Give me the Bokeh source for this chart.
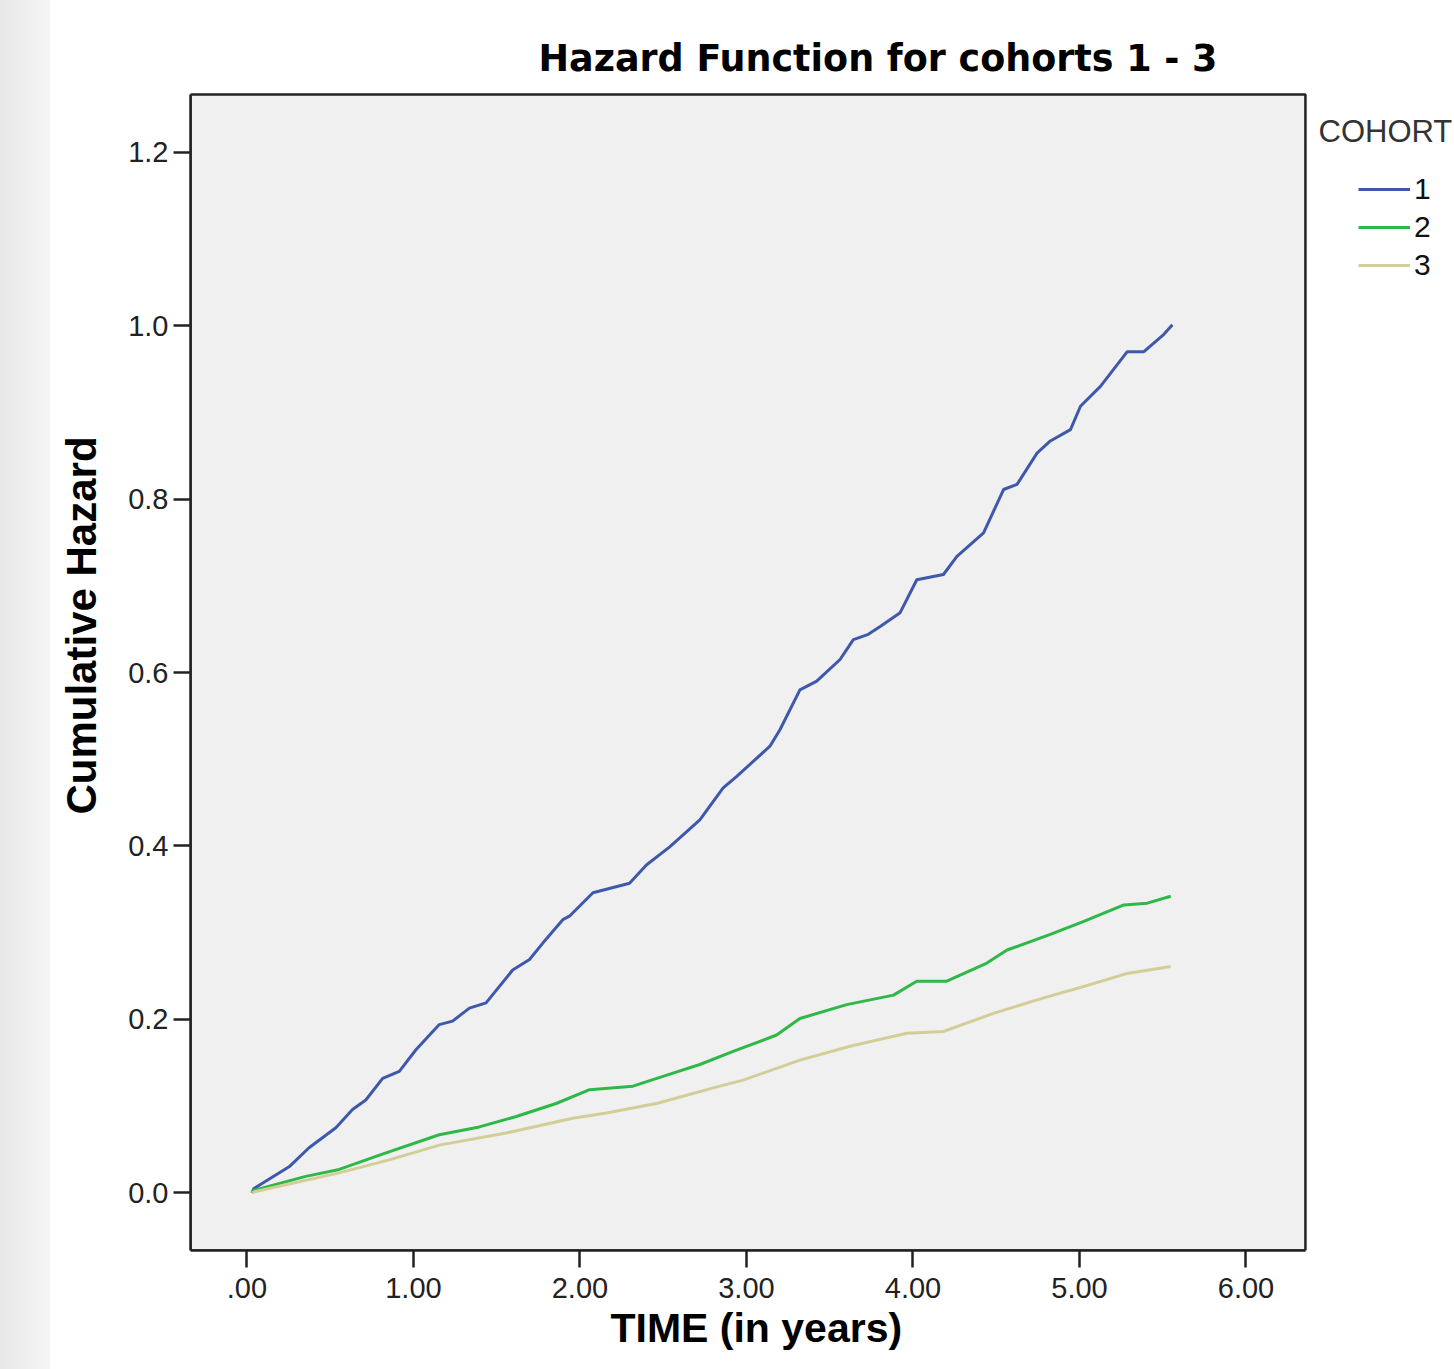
from bokeh.plotting import figure
from bokeh.models import Range1d, FixedTicker, Label, Legend, LegendItem, BoxAnnotation, Title, Div
from bokeh.layouts import row
from bokeh.embed import file_html
from bokeh.resources import INLINE

# ---------------- data ----------------
t1 = [0.03, 0.042, 0.253, 0.373, 0.534, 0.634, 0.714, 0.815, 0.915, 1.015, 1.155, 1.235,
      1.336, 1.436, 1.596, 1.697, 1.777, 1.897, 1.937, 2.078, 2.298, 2.399, 2.539, 2.720,
      2.860, 2.940, 3.141, 3.201, 3.321, 3.422, 3.562, 3.642, 3.732, 3.803, 3.923, 4.023,
      4.183, 4.264, 4.424, 4.544, 4.625, 4.745, 4.825, 4.946, 5.006, 5.126, 5.287, 5.387,
      5.507, 5.558]
h1 = [0.0, 0.005, 0.030, 0.052, 0.075, 0.096, 0.107, 0.132, 0.140, 0.165, 0.194, 0.198,
      0.213, 0.219, 0.257, 0.269, 0.288, 0.315, 0.319, 0.346, 0.357, 0.378, 0.399, 0.430,
      0.467, 0.480, 0.515, 0.534, 0.580, 0.590, 0.615, 0.638, 0.644, 0.653, 0.669, 0.707,
      0.713, 0.734, 0.761, 0.811, 0.817, 0.853, 0.867, 0.880, 0.907, 0.930, 0.970, 0.970,
      0.990, 1.001]

t2 = [0.03, 0.042, 0.353, 0.554, 0.835, 1.155, 1.396, 1.617, 1.857, 2.058, 2.318, 2.559,
      2.720, 2.920, 3.181, 3.321, 3.602, 3.883, 4.023, 4.203, 4.444, 4.565, 4.825, 5.026,
      5.267, 5.407, 5.548]
h2 = [0.0, 0.003, 0.019, 0.027, 0.046, 0.067, 0.076, 0.088, 0.103, 0.119, 0.123, 0.138,
      0.148, 0.163, 0.182, 0.201, 0.217, 0.228, 0.244, 0.244, 0.265, 0.280, 0.298, 0.313,
      0.332, 0.334, 0.342]

t3 = [0.03, 0.052, 0.554, 0.854, 1.155, 1.557, 1.957, 2.158, 2.459, 2.840, 2.980, 3.321,
      3.622, 3.963, 4.183, 4.484, 4.805, 5.026, 5.287, 5.548]
h3 = [0.0, 0.0015, 0.023, 0.038, 0.055, 0.069, 0.086, 0.092, 0.103, 0.123, 0.130, 0.153,
      0.169, 0.184, 0.186, 0.207, 0.226, 0.238, 0.253, 0.261]

cohorts = ["1", "2", "3"]
colors = ["#3E58AC", "#2EB848", "#D3CE97"]

x_ticks = [0, 1, 2, 3, 4, 5, 6]
x_tick_labels = [".00", "1.00", "2.00", "3.00", "4.00", "5.00", "6.00"]
y_ticks = [0.0, 0.2, 0.4, 0.6, 0.8, 1.0, 1.2]
y_tick_labels = ["0.0", "0.2", "0.4", "0.6", "0.8", "1.0", "1.2"]

# axis extents of the plotting box
x_lo, x_hi = -0.339, 6.357
y_lo, y_hi = -0.0665, 1.2665

title_text = "Hazard Function for cohorts 1 - 3"
x_title = "TIME (in years)"
y_title = "Cumulative Hazard"
legend_title = "COHORT"

FONT = "Liberation Sans"

p = figure(width=1404, height=1369, output_backend="svg", toolbar_location=None,
           x_range=Range1d(x_lo, 7.2523), y_range=Range1d(y_lo, 1.3749),
           min_border_left=140, min_border_right=0, min_border_top=0,
           min_border_bottom=119)

p.background_fill_color = "white"
p.border_fill_color = "white"
p.outline_line_color = None
p.xgrid.visible = False
p.ygrid.visible = False

p.add_layout(BoxAnnotation(left=x_lo, right=x_hi, bottom=y_lo, top=y_hi,
                           fill_color="#f0f0f0", fill_alpha=1.0,
                           line_color="#222222", line_alpha=1.0, line_width=2.5,
                           level="underlay"))

for ax, ticks, labels, bnd in ((p.xaxis[0], x_ticks, x_tick_labels, (x_lo, x_hi)),
                               (p.yaxis[0], y_ticks, y_tick_labels, (y_lo, y_hi))):
    ax.ticker = FixedTicker(ticks=ticks)
    ax.bounds = bnd
    ax.major_label_overrides = {t: l for t, l in zip(ticks, labels)}
    ax.axis_line_color = "#222222"
    ax.axis_line_width = 2.5
    ax.major_tick_line_color = "#222222"
    ax.major_tick_line_width = 2.5
    ax.major_tick_out = 17
    ax.major_tick_in = 0
    ax.minor_tick_line_color = None
    ax.major_label_text_font = FONT
    ax.major_label_text_font_size = "29px"
    ax.major_label_text_color = "#222222"
    ax.axis_label_text_font = FONT
    ax.axis_label_text_font_size = "42px"
    ax.axis_label_text_font_style = "bold"
    ax.axis_label_text_color = "black"

p.yaxis.axis_label = y_title
p.xaxis.major_label_standoff = 10
p.yaxis.major_label_standoff = 5
p.yaxis.axis_label_standoff = 20

# x-axis title, left-aligned so that it sits centred under the plotting box
p.add_layout(Title(text=x_title, align="left", offset=420, standoff=4,
                   text_font=FONT, text_font_size="41px", text_font_style="bold",
                   text_color="black"), "below")

renderers = []
for ts, hs, c in ((t1, h1, colors[0]), (t2, h2, colors[1]), (t3, h3, colors[2])):
    r = p.line(ts, hs, line_color=c, line_width=3, line_join="round")
    renderers.append(r)

legend = Legend(items=[LegendItem(label=lab, renderers=[r]) for lab, r in zip(cohorts, renderers)],
                location=(1168, 968), orientation="vertical",
                glyph_width=52, glyph_height=28, label_height=28, spacing=4,
                label_standoff=4, padding=0, margin=0,
                label_text_font=FONT, label_text_font_size="30px", label_text_color="#111111",
                border_line_color=None, background_fill_alpha=0)
p.add_layout(legend, "center")

p.add_layout(Label(x=1128, y=1119, x_units="screen", y_units="screen", text=legend_title,
                   text_font=FONT, text_font_size="31px", text_color="#333333",
                   text_baseline="alphabetic"))

p.add_layout(Label(x=348, y=1192, x_units="screen", y_units="screen", text=title_text,
                   text_font="DejaVu Sans", text_font_size="36.5px", text_font_style="bold",
                   text_color="black", text_baseline="alphabetic"))

strip = Div(text="", width=50, height=1369, margin=0,
            styles={"background": "linear-gradient(to right, #e8e8e8, #f5f5f5)"})

layout = row(strip, p, spacing=0)

open("out.html", "w").write(file_html(layout, INLINE))
